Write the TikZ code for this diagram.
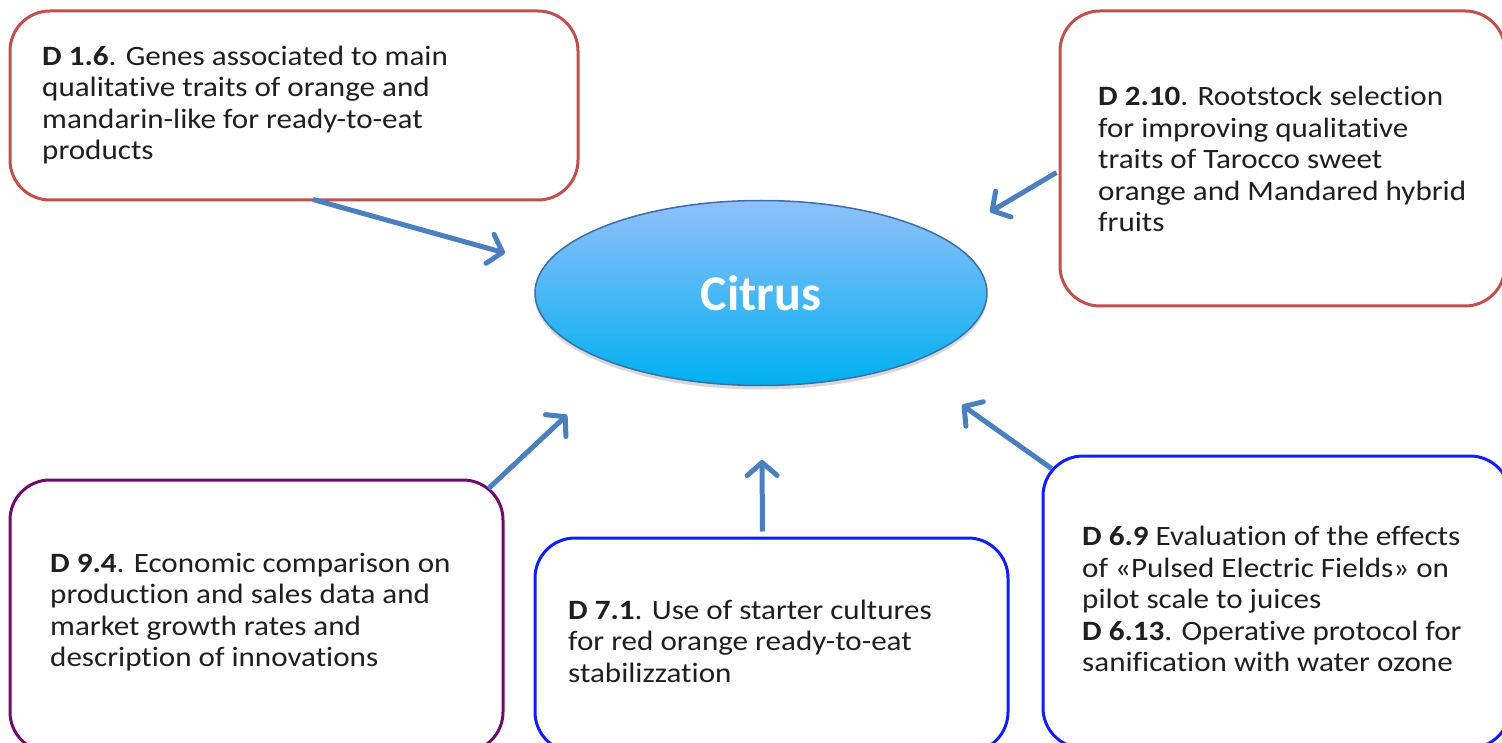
\documentclass[tikz,border=0pt]{standalone}
\usepackage{fontspec}
\setmainfont{Carlito}[Ligatures={NoCommon}]
\newfontfamily\bodyfont{Carlito}[FakeStretch=1.11, Ligatures={NoCommon}]
\usetikzlibrary{shapes.geometric,arrows.meta,calc,shadows}
\definecolor{boxred}{RGB}{192,80,77}
\definecolor{boxpurple}{RGB}{110,12,110}
\definecolor{boxblue}{RGB}{15,30,250}
\definecolor{arrowblue}{RGB}{74,128,190}
\definecolor{elltop}{RGB}{145,192,250}
\definecolor{ellbot}{RGB}{0,176,240}
\definecolor{ellline}{RGB}{60,110,170}
\tikzset{
  dbox/.style={draw, line width=3pt, rounded corners=40pt, fill=white, inner sep=0pt},
  dtext/.style={anchor=west, align=left, inner sep=0pt, font=\bodyfont\fontsize{28}{31.5}\selectfont, text=black!88},
  link/.style={draw=arrowblue, line width=5pt, -{Straight Barb[length=13pt,width=30pt,round]}},
  center/.style={ellipse, minimum width=452pt, minimum height=185pt, inner sep=0pt,
    top color=elltop, bottom color=ellbot, draw=ellline, line width=1.5pt,
    drop shadow={shadow xshift=0pt, shadow yshift=-4pt, opacity=0.25, fill=black!60},
    text=white, font=\fontsize{50}{58}\selectfont\bfseries}
}
\begin{document}
\begin{tikzpicture}[x=1pt,y=-1pt]
\clip (0,0) rectangle (1502,743);
\fill[white] (0,0) rectangle (1502,743);
% boxes
\node[dbox, draw=boxred, minimum width=568pt, minimum height=189pt] (b1) at (294,105.5) {};
\node[dbox, draw=boxred, minimum width=445pt, minimum height=295pt] (b2) at (1282.5,158.5) {};
\node[dbox, draw=boxpurple, minimum width=493pt, minimum height=272pt] (b3) at (256.5,616) {};
\node[dbox, draw=boxblue, minimum width=473pt, minimum height=214pt] (b4) at (771.5,645) {};
\node[dbox, draw=boxblue, minimum width=467pt, minimum height=292pt] (b5) at (1276.5,602) {};
% texts
\node[dtext] (t1) at (42,105) {\textbf{D 1.6}. Genes associated to main\\qualitative traits of orange and\\mandarin-like for ready-to-eat\\products};
\node[dtext] (t2) at (1098,159) {\textbf{D 2.10}. Rootstock selection\\for improving qualitative\\traits of Tarocco sweet\\orange and Mandared hybrid\\fruits};
\node[dtext] (t3) at (50,612) {\textbf{D 9.4}. Economic comparison on\\production and sales data and\\market growth rates and\\description of innovations};
\node[dtext] (t4) at (568,641) {\textbf{D 7.1}. Use of starter cultures\\for red orange ready-to-eat\\stabilizzation};
\node[dtext] (t5) at (1082,599) {\textbf{D 6.9} Evaluation of the effects\\of «Pulsed Electric Fields» on\\pilot scale to juices\\\textbf{D 6.13}. Operative protocol for\\sanification with water ozone};
% center
\node[center] (c) at (761,293) {Citrus};
% arrow tips
\coordinate (e1) at (505,253);
\coordinate (e2) at (990,212);
\coordinate (e3) at (567,415);
\coordinate (e4) at (762,460);
\coordinate (e5) at (962,405);
\draw[link] ($(b1.south)+(19,-2)$) -- (e1);
\draw[link] ($(b2.west)+(-2,14)$) -- (e2);
\draw[link] ($(b3.north east)+(-16,10)$) -- (e3);
\draw[link] ($(b4.north)+(-9,-5)$) -- (e4);
\draw[link] ($(b5.north west)+(10,14)$) -- (e5);
\end{tikzpicture}
\end{document}
